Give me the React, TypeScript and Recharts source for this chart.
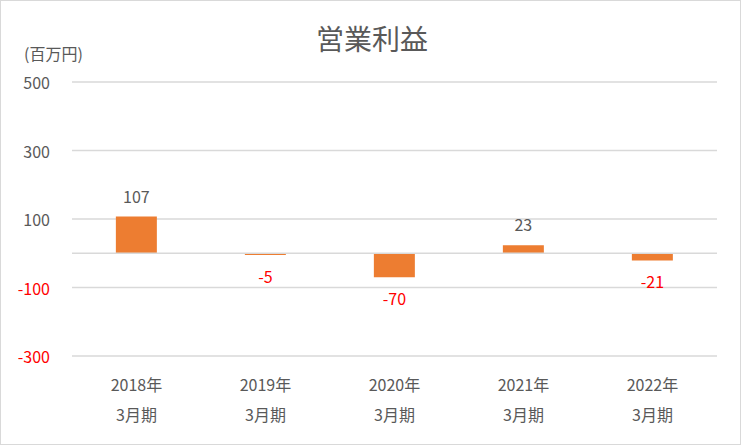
import React from "react";
import {
  BarChart,
  Bar,
  XAxis,
  YAxis,
  CartesianGrid,
  ReferenceLine,
  LabelList,
} from "recharts";

const years = ["2018年", "2019年", "2020年", "2021年", "2022年"];
const periods = ["3月期", "3月期", "3月期", "3月期", "3月期"];
const profit = [107, -5, -70, 23, -21];
const yTicks = [-300, -100, 100, 300, 500];

const FONT = '"Noto Sans CJK JP", "Noto Sans", sans-serif';
const TEXT = "#595959";
const RED = "#FF0000";
const BAR = "#ED7D31";
const GRID = "#D9D9D9";

const data = years.map((y, i) => ({ year: y, period: periods[i], value: profit[i] }));

function XTick(props: any) {
  const { x, y, payload, index } = props;
  return (
    <g>
      <text x={x} y={y + 20} textAnchor="middle" dominantBaseline="central" fill={TEXT} fontSize={16} fontFamily={FONT}>
        {payload.value}
      </text>
      <text x={x} y={y + 50} textAnchor="middle" dominantBaseline="central" fill={TEXT} fontSize={16} fontFamily={FONT}>
        {periods[index]}
      </text>
    </g>
  );
}

function YTick(props: any) {
  const { x, y, payload } = props;
  return (
    <text x={x} y={y} textAnchor="end" dominantBaseline="central" fill={payload.value < 0 ? RED : TEXT} fontSize={16} fontFamily={FONT}>
      {payload.value}
    </text>
  );
}

function ValueLabel(props: any) {
  const { x, y, width, height, value } = props;
  const top = Math.min(y, y + height);
  const bottom = Math.max(y, y + height);
  const neg = value < 0;
  return (
    <text
      x={x + width / 2}
      y={neg ? bottom + 21 : top - 21}
      textAnchor="middle"
      dominantBaseline="central"
      fill={neg ? RED : TEXT}
      fontSize={16}
      fontFamily={FONT}
    >
      {value}
    </text>
  );
}

export default function App() {
  return (
    <div
      style={{
        position: "fixed",
        left: 0,
        top: 0,
        width: 741,
        height: 445,
        boxSizing: "border-box",
        border: "1px solid #D9D9D9",
        background: "#fff",
        fontFamily: FONT,
      }}
    >
      <div style={{ position: "absolute", left: 0, top: 0 }}>
        <BarChart width={741} height={445} data={data} margin={{ top: 81, right: 25, bottom: 0, left: 0 }} barCategoryGap="34%">
          <text x={371} y={37} textAnchor="middle" dominantBaseline="central" fill={TEXT} fontSize={28} fontFamily={FONT}>
            営業利益
          </text>
          <text x={23} y={52} textAnchor="start" dominantBaseline="central" fill={TEXT} fontSize={16} fontFamily={FONT}>
            (百万円)
          </text>
          <CartesianGrid vertical={false} stroke={GRID} strokeWidth={1.5} />
          <ReferenceLine y={0} stroke={GRID} strokeWidth={1.5} />
          <XAxis dataKey="year" axisLine={false} tickLine={false} height={90} tick={<XTick />} interval={0} />
          <YAxis
            domain={[-300, 500]}
            ticks={yTicks}
            axisLine={false}
            tickLine={false}
            tickSize={0}
            tickMargin={22}
            width={71}
            tick={<YTick />}
            interval={0}
          />
          <Bar dataKey="value" fill={BAR} isAnimationActive={false}>
            <LabelList dataKey="value" content={<ValueLabel />} />
          </Bar>
        </BarChart>
      </div>
    </div>
  );
}
